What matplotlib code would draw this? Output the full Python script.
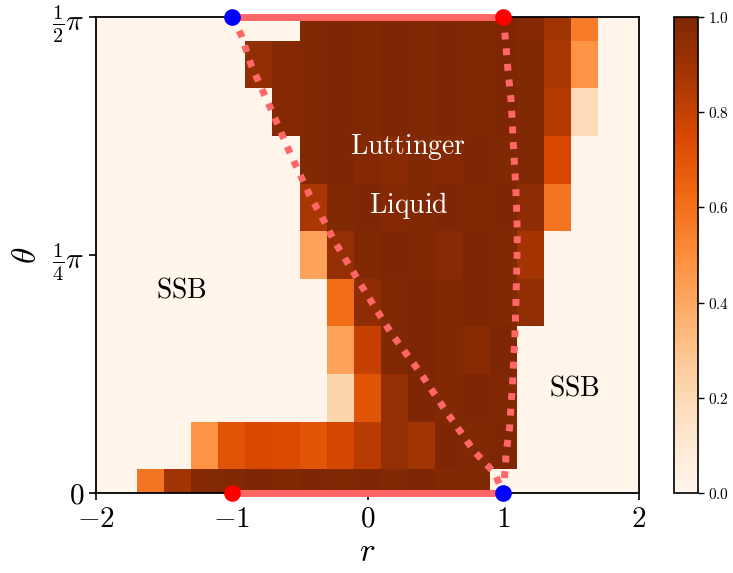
import numpy as np
import matplotlib
matplotlib.use("Agg")
import matplotlib.pyplot as plt

plt.rcParams['mathtext.fontset'] = 'cm'
plt.rcParams['font.family'] = ['DejaVu Serif']

# grid centres
r_centers = [-2.0, -1.8, -1.6, -1.4, -1.2, -1.0, -0.8, -0.6, -0.4, -0.2, 0.0,
             0.2, 0.4, 0.6, 0.8, 1.0, 1.2, 1.4, 1.6, 1.8, 2.0]
theta_steps = [0, 1, 2, 3, 4, 5, 6, 7, 8, 9, 10]   # theta = k * pi/20

# values, one list per theta row (bottom -> top), one entry per r column
row0 = [0, 0, 0.58, 0.89, 0.98, 0.99, 1.0, 0.99, 1.0, 0.99, 1.0, 0.99, 1.0, 0.99, 0.99, 0, 0, 0, 0, 0, 0]
row1 = [0, 0, 0, 0, 0.48, 0.71, 0.75, 0.74, 0.70, 0.76, 0.83, 0.93, 0.89, 1.0, 0.99, 1.0, 0, 0, 0, 0, 0]
row2 = [0, 0, 0, 0, 0, 0, 0, 0, 0, 0.22, 0.71, 0.93, 1.0, 0.99, 1.0, 0.99, 0, 0, 0, 0, 0]
row3 = [0, 0, 0, 0, 0, 0, 0, 0, 0, 0.42, 0.80, 0.99, 1.0, 0.99, 0.97, 1.0, 0, 0, 0, 0, 0]
row4 = [0, 0, 0, 0, 0, 0, 0, 0, 0, 0.62, 0.95, 0.99, 1.0, 0.99, 1.0, 0.99, 0.94, 0, 0, 0, 0]
row5 = [0, 0, 0, 0, 0, 0, 0, 0, 0.42, 0.93, 0.99, 1.0, 0.99, 0.97, 1.0, 0.99, 0.88, 0, 0, 0, 0]
row6 = [0, 0, 0, 0, 0, 0, 0, 0, 0.87, 0.99, 1.0, 0.98, 0.99, 1.0, 0.99, 1.0, 0.95, 0.58, 0, 0, 0]
row7 = [0, 0, 0, 0, 0, 0, 0, 0, 0.99, 1.0, 0.98, 0.97, 0.99, 0.98, 1.0, 0.99, 0.99, 0.75, 0, 0, 0]
row8 = [0, 0, 0, 0, 0, 0, 0, 0.98, 0.99, 1.0, 0.99, 1.0, 0.99, 1.0, 0.99, 1.0, 0.99, 0.84, 0.19, 0, 0]
row9 = [0, 0, 0, 0, 0, 0, 0.94, 0.98, 0.99, 1.0, 0.99, 1.0, 0.99, 1.0, 0.99, 1.0, 0.99, 0.87, 0.48, 0, 0]
row10 = [0, 0, 0, 0, 0, 0, 0, 0, 0.99, 1.0, 0.99, 1.0, 0.99, 1.0, 0.99, 1.0, 0.98, 0.89, 0.56, 0, 0]

# boundary curves (r, theta as fraction of pi/2)
curveA_r = [-1.0, -0.930, -0.857, -0.709, -0.575, -0.427, -0.304, -0.256, -0.010,
            0.175, 0.383, 0.580, 0.788, 0.936, 1.0]
curveA_f = [1.0, 0.962, 0.899, 0.805, 0.717, 0.626, 0.563, 0.535, 0.4195,
            0.3355, 0.255, 0.171, 0.0868, 0.042, 0.0]
curveB_r = [1.0, 1.014, 1.0335, 1.0586, 1.070, 1.083, 1.0954, 1.103, 1.103,
            1.0954, 1.085, 1.066, 1.046, 1.022, 1.014, 1.0]
curveB_f = [1.0, 0.9586, 0.8922, 0.822, 0.7556, 0.6891, 0.6225, 0.5561, 0.5210,
            0.4229, 0.3214, 0.2199, 0.1359, 0.0868, 0.0519, 0.0]

Z = np.array([row0, row1, row2, row3, row4, row5, row6, row7, row8, row9, row10])
R = np.array(r_centers)
T = np.array(theta_steps) * np.pi / 20

fig = plt.figure(figsize=(7.33, 5.73), dpi=100)
ax = fig.add_axes([96/733, 80/573, 543/733, 476/573])
mesh = ax.pcolormesh(R, T, Z, cmap='Oranges', vmin=0, vmax=1, shading='nearest')
ax.set_xlim(-2, 2)
ax.set_ylim(0, np.pi/2)

lc = '#ff6666'
ax.plot(curveA_r, np.array(curveA_f)*np.pi/2, lw=5, color=lc, dashes=(1, 1.26), zorder=3)
ax.plot(curveB_r, np.array(curveB_f)*np.pi/2, lw=5, color=lc, dashes=(1, 1.26), zorder=3)
ax.plot([-1, 1], [np.pi/2, np.pi/2], '-', lw=5, color=lc, clip_on=False, zorder=4)
ax.plot([-1, 1], [0, 0], '-', lw=5, color=lc, clip_on=False, zorder=4)
ax.plot([-1, 1], [np.pi/2, 0], 'o', color='blue', ms=11, clip_on=False, zorder=5)
ax.plot([1, -1], [np.pi/2, 0], 'o', color='red', ms=11, clip_on=False, zorder=5)

ax.text(0.30, 0.727*np.pi/2, r'$\mathrm{Luttinger}$', color='white', fontsize=20,
        ha='center', va='center')
ax.text(0.30, 0.605*np.pi/2, r'$\mathrm{Liquid}$', color='white', fontsize=20,
        ha='center', va='center')
ax.text(-1.37, 0.426*np.pi/2, r'$\mathrm{SSB}$', color='black', fontsize=20,
        ha='center', va='center')
ax.text(1.525, 0.22*np.pi/2, r'$\mathrm{SSB}$', color='black', fontsize=20,
        ha='center', va='center')

ax.set_xticks([-2, -1, 0, 1, 2])
ax.set_xticklabels([r'$-2$', r'$-1$', r'$0$', r'$1$', r'$2$'])
ax.set_yticks([0, np.pi/4, np.pi/2])
ax.set_yticklabels([r'$0$', r'$\frac{1}{4}\pi$', r'$\frac{1}{2}\pi$'])
ax.tick_params(labelsize=21, length=5, width=1.2)
ax.set_xlabel(r'$r$', fontsize=24, labelpad=2)
ax.set_ylabel(r'$\theta$', fontsize=24, labelpad=6)
for s in ax.spines.values():
    s.set_linewidth(1.3)

cax = fig.add_axes([674/733, 80/573, 24/733, 476/573])
cb = fig.colorbar(mesh, cax=cax)
cb.set_ticks([0, 0.2, 0.4, 0.6, 0.8, 1.0])
cb.set_ticklabels([r'$0.0$', r'$0.2$', r'$0.4$', r'$0.6$', r'$0.8$', r'$1.0$'])
cax.tick_params(labelsize=11, length=4, width=1)
cb.outline.set_linewidth(1.2)

fig.savefig('out.png', dpi=100)
